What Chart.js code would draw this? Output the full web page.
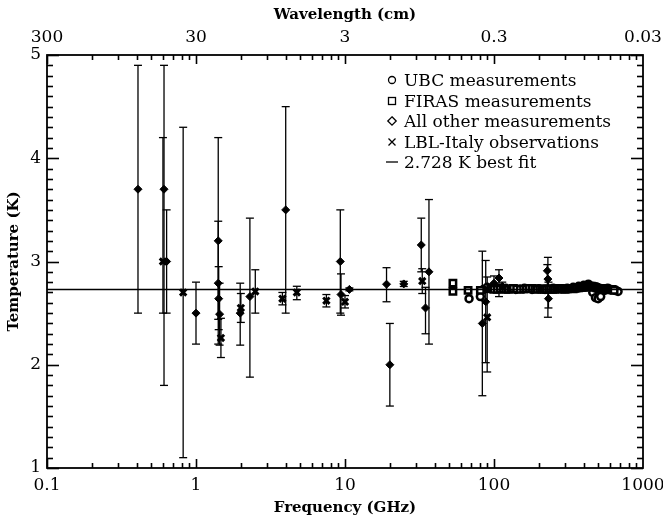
<!DOCTYPE html>
<html>
<head>
<meta charset="utf-8">
<script src="https://cdn.jsdelivr.net/npm/chart.js@4.4.0/dist/chart.umd.min.js"></script>
<style>
  body { margin: 0; background: #fff; }
  #wrap { position: relative; width: 663px; height: 517px; }
  #legend { position: absolute; left: 386px; top: 70px; font-family: 'DejaVu Serif', serif; font-size: 17px; color: #000; line-height: 20.5px; }
  #legend div { display: flex; align-items: center; white-space: nowrap; }
  #legend svg { margin-right: 6px; }
</style>
</head>
<body>
<div id="wrap">
  <canvas id="cmbChart" width="663" height="517"></canvas>
  <div id="legend">
    <div><svg width="12" height="12"><circle cx="6" cy="6" r="3.5" fill="none" stroke="#000" stroke-width="1.3"/></svg>UBC measurements</div>
    <div><svg width="12" height="12"><rect x="2.5" y="2.5" width="7" height="7" fill="none" stroke="#000" stroke-width="1.3"/></svg>FIRAS measurements</div>
    <div><svg width="12" height="12"><path d="M6 1.8 L10.2 6 L6 10.2 L1.8 6 Z" fill="none" stroke="#000" stroke-width="1.3"/></svg>All other measurements</div>
    <div><svg width="12" height="12"><path d="M2.5 2.5 L9.5 9.5 M9.5 2.5 L2.5 9.5" stroke="#000" stroke-width="1.3"/></svg>LBL-Italy observations</div>
    <div><svg width="12" height="12"><path d="M0 6 L12 6" stroke="#000" stroke-width="1.3"/></svg>2.728 K best fit</div>
  </div>
</div>
<script>
// tick labels
const freqTicks = [0.1, 1, 10, 100, 1000]
const freqLabels = ['0.1', '1', '10', '100', '1000']
const wavelengthLabels = ['300', '30', '3', '0.3', '0.03']
const tempTicks = [1, 2, 3, 4, 5]

const bestFit = 2.728

// all other measurements (diamonds)
const otherFreq = [0.408, 0.61, 0.635, 1.0, 1.41, 1.41, 1.42, 1.44, 1.98, 2.3, 4.0, 9.3, 9.4, 10.7, 19.0, 20.0, 24.8, 32.5, 34.7, 36.6, 83.5, 88, 100, 108, 113.6, 228, 230, 232]
const otherTemp = [3.7, 3.7, 3.0, 2.5, 3.2, 2.79, 2.64, 2.49, 2.5, 2.66, 3.5, 3.0, 2.68, 2.73, 2.78, 2.0, 2.783, 3.16, 2.55, 2.9, 2.4, 2.61, 2.79, 2.84, 2.76, 2.91, 2.83, 2.64]
const otherLow = [2.5, 1.8, 2.5, 2.2, 2.2, 2.44, 2.34, 2.19, 2.19, 1.88, 2.5, 2.5, 2.48, 2.716, 2.61, 1.6, 2.758, 2.9, 2.3, 2.2, 1.7, 2.02, 2.72, 2.66, 2.72, 2.77, 2.46, 2.55]
const otherHigh = [4.9, 4.9, 3.5, 2.8, 4.2, 3.39, 2.95, 2.79, 2.79, 3.42, 4.5, 3.5, 2.88, 2.744, 2.94, 2.4, 2.808, 3.42, 2.75, 3.6, 3.1, 3.01, 2.86, 2.92, 2.8, 2.97, 3.04, 2.8]

// LBL-Italy observations (crosses)
const lblFreq = [0.6, 0.82, 1.47, 2.0, 2.5, 3.8, 4.75, 7.5, 10.0, 33.0, 90.0, 90.0]
const lblTemp = [3.0, 2.7, 2.26, 2.55, 2.71, 2.64, 2.70, 2.62, 2.61, 2.81, 2.46, 2.73]
const lblLow = [2.5, 1.1, 2.07, 2.41, 2.5, 2.58, 2.63, 2.56, 2.55, 2.69, 1.93, 2.7]
const lblHigh = [4.2, 4.3, 2.45, 2.69, 2.92, 2.70, 2.76, 2.68, 2.67, 2.93, 2.85, 2.76]

// FIRAS measurements (squares)
const firasFreq = [53, 53, 67, 81, 95, 100, 105, 110, 115, 120, 125, 130, 135, 142, 150, 158, 165, 172, 180, 188, 195, 203, 210, 218, 225, 233, 240, 248, 255, 263, 270, 278, 285, 293, 300, 310, 320, 330, 340, 350, 360, 370, 380, 390, 400, 410, 420, 430, 440, 450, 460, 470, 480, 490, 500, 510, 520, 530, 540, 550, 560, 570, 580, 590, 600, 610, 620, 630, 640]
const firasTemp = [2.79, 2.71, 2.72, 2.72, 2.74, 2.73, 2.73, 2.735, 2.735, 2.73, 2.73, 2.735, 2.74, 2.735, 2.73, 2.735, 2.735, 2.74, 2.74, 2.735, 2.73, 2.735, 2.735, 2.73, 2.73, 2.735, 2.735, 2.73, 2.73, 2.735, 2.74, 2.74, 2.735, 2.735, 2.73, 2.735, 2.74, 2.74, 2.735, 2.74, 2.745, 2.745, 2.75, 2.75, 2.75, 2.755, 2.755, 2.76, 2.76, 2.76, 2.755, 2.755, 2.75, 2.745, 2.74, 2.74, 2.735, 2.735, 2.73, 2.735, 2.74, 2.735, 2.73, 2.73, 2.725, 2.73, 2.73, 2.725, 2.72]

// UBC measurements (circles)
const ubcFreq = [68, 81, 85, 90, 100, 110, 120, 140, 160, 180, 200, 220, 250, 280, 310, 340, 370, 400, 430, 460, 480, 500, 520, 550, 580, 610, 650, 680]
const ubcTemp = [2.64, 2.66, 2.73, 2.75, 2.76, 2.74, 2.74, 2.73, 2.74, 2.73, 2.735, 2.73, 2.74, 2.735, 2.74, 2.75, 2.76, 2.77, 2.78, 2.70, 2.65, 2.64, 2.66, 2.72, 2.74, 2.73, 2.72, 2.71]

const black = '#000'
const tickFont = { family: 'DejaVu Serif', size: 17 }
const titleFont = { family: 'DejaVu Serif', size: 15, weight: 'bold' }

const withErrors = (f, t, lo, hi) => f.map((v, i) => ({ x: v, y: t[i], yMin: lo[i], yMax: hi[i] }))
const points = (f, t) => f.map((v, i) => ({ x: v, y: t[i] }))

const segment = (ctx, x1, y1, x2, y2) => {
  ctx.beginPath()
  ctx.moveTo(x1, y1)
  ctx.lineTo(x2, y2)
  ctx.stroke()
}

// vertical error bars with caps, drawn under the markers
const errorBars = {
  id: 'errorBars',
  beforeDatasetsDraw(chart) {
    const { ctx, chartArea: a, scales: { x, y } } = chart
    ctx.save()
    ctx.beginPath()
    ctx.rect(a.left, a.top, a.right - a.left, a.bottom - a.top)
    ctx.clip()
    ctx.strokeStyle = black
    ctx.lineWidth = 1.3
    chart.data.datasets.forEach(ds => {
      ds.data.forEach(d => {
        if (d.yMin == null) return
        const px = x.getPixelForValue(d.x)
        const top = y.getPixelForValue(d.yMax)
        const bot = y.getPixelForValue(d.yMin)
        segment(ctx, px, top, px, bot)
        segment(ctx, px - 4, top, px + 4, top)
        segment(ctx, px - 4, bot, px + 4, bot)
      })
    })
    ctx.restore()
  }
}

// box with inward ticks on all four sides
const frameTicks = {
  id: 'frameTicks',
  afterDraw(chart) {
    const { ctx, chartArea: a } = chart
    const x = chart.scales.x
    const y = chart.scales.y
    ctx.save()
    ctx.strokeStyle = black
    ctx.lineWidth = 1.6
    for (let d = 0; d < 4; d++) {
      const dec = freqTicks[d]
      for (let m = 1; m < 10; m++) {
        const px = Math.round(x.getPixelForValue(dec * m)) + 0.5
        const len = m === 1 ? 9 : 5
        segment(ctx, px, a.bottom, px, a.bottom - len)
        segment(ctx, px, a.top, px, a.top + len)
      }
    }
    for (let k = 10; k <= 50; k++) {
      const py = Math.round(y.getPixelForValue(k / 10)) + 0.5
      const len = k % 10 === 0 ? 12 : 6
      segment(ctx, a.left, py, a.left + len, py)
      segment(ctx, a.right, py, a.right - len, py)
    }
    ctx.lineWidth = 1.8
    ctx.strokeRect(a.left, a.top, a.right - a.left, a.bottom - a.top)
    ctx.restore()
  }
}

const logAxis = (position, labels, title, height, titlePad) => ({
  type: 'logarithmic',
  position: position,
  min: 0.1,
  max: 1000,
  afterBuildTicks: s => { s.ticks = freqTicks.map(v => ({ value: v })) },
  afterFit: s => {
    s.height = height
    // end labels hang into the page margin instead of shrinking the plot
    s.paddingLeft = 0
    s.paddingRight = 0
  },
  grid: { display: false, drawTicks: false },
  border: { display: false },
  ticks: { callback: (v, i) => labels[i], font: tickFont, color: black, padding: 7, maxRotation: 0, autoSkip: false },
  title: { display: true, text: title, font: titleFont, color: black, padding: titlePad }
})

new Chart(document.getElementById('cmbChart'), {
  type: 'scatter',
  data: {
    datasets: [
      {
        label: '2.728 K best fit',
        type: 'line',
        data: [{ x: 0.1, y: bestFit }, { x: 1000, y: bestFit }],
        borderColor: black,
        borderWidth: 1.5,
        pointRadius: 0
      },
      {
        label: 'All other measurements',
        data: withErrors(otherFreq, otherTemp, otherLow, otherHigh),
        pointStyle: 'rectRot',
        pointRadius: 4,
        backgroundColor: black,
        borderColor: black,
        borderWidth: 1
      },
      {
        label: 'LBL-Italy observations',
        data: withErrors(lblFreq, lblTemp, lblLow, lblHigh),
        pointStyle: 'crossRot',
        pointRadius: 4.5,
        borderColor: black,
        borderWidth: 3
      },
      {
        label: 'FIRAS measurements',
        data: points(firasFreq, firasTemp),
        pointStyle: 'rect',
        pointRadius: 4.5,
        backgroundColor: '#fff',
        borderColor: black,
        borderWidth: 2.5
      },
      {
        label: 'UBC measurements',
        data: points(ubcFreq, ubcTemp),
        pointStyle: 'circle',
        pointRadius: 3.5,
        backgroundColor: '#fff',
        borderColor: black,
        borderWidth: 2.5
      }
    ]
  },
  options: {
    responsive: false,
    animation: false,
    layout: { padding: { right: 20 } },
    plugins: { legend: { display: false }, tooltip: { enabled: false } },
    scales: {
      x: logAxis('bottom', freqLabels, 'Frequency (GHz)', 49, { top: 0, bottom: 0 }),
      x2: logAxis('top', wavelengthLabels, 'Wavelength (cm)', 55, { top: 6, bottom: 0 }),
      y: {
        min: 1,
        max: 5,
        afterBuildTicks: s => { s.ticks = tempTicks.map(v => ({ value: v })) },
        afterFit: s => { s.width = 47 },
        grid: { display: false, drawTicks: false },
        border: { display: false },
        ticks: { font: tickFont, color: black, padding: 6 },
        title: { display: true, text: 'Temperature (K)', font: titleFont, color: black, padding: { top: 5, bottom: 0 } }
      }
    }
  },
  plugins: [errorBars, frameTicks]
})
</script>
</body>
</html>
